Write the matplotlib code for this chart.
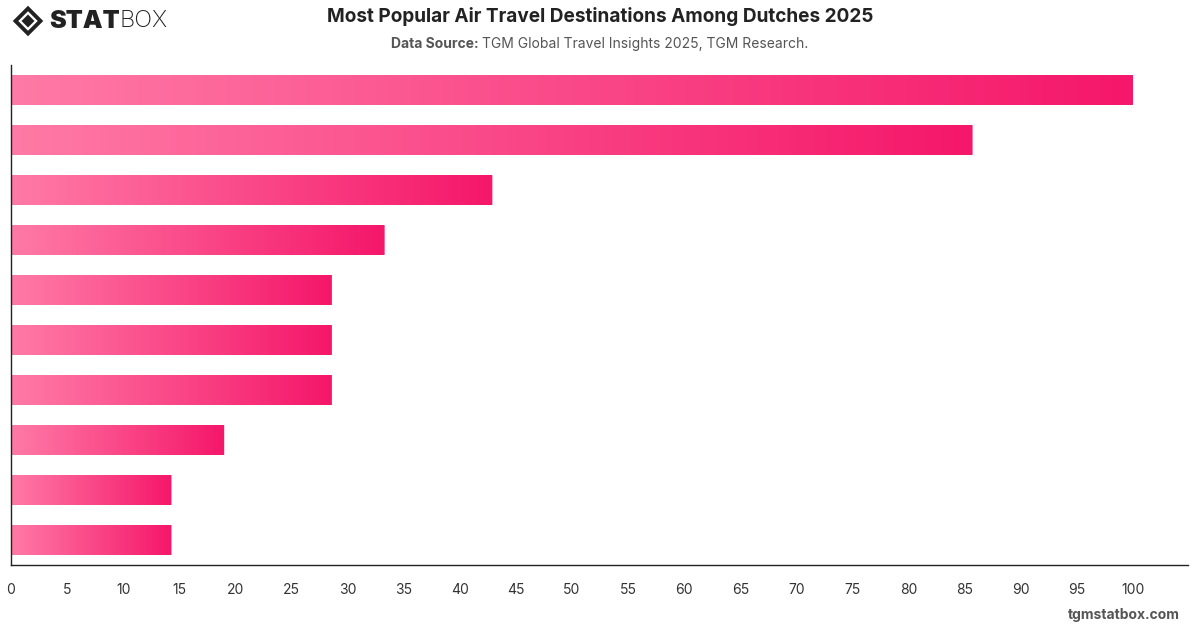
import numpy as np
import matplotlib
matplotlib.use("Agg")
import matplotlib.pyplot as plt
from matplotlib.patches import FancyBboxPatch, Polygon
from matplotlib.colors import LinearSegmentedColormap

# values (top to bottom), no category labels shown
values = [100, 85.7, 42.9, 33.3, 28.6, 28.6, 28.6, 19.0, 14.3, 14.3]
ticks = list(range(0, 101, 5))

plt.rcParams['font.family'] = ['Inter', 'DejaVu Sans']

fig = plt.figure(figsize=(12, 6.28), dpi=100)
ax = fig.add_axes([11 / 1200, 1 - 565 / 628, (1188 - 11) / 1200, 500 / 628])

cmap = LinearSegmentedColormap.from_list('pink', ['#ff7aa6', '#f5176a'])
grad = np.linspace(0, 1, 256).reshape(1, -1)

n = len(values)
bar_h = 0.6
for i, v in enumerate(values):
    y = n - 1 - i
    patch = FancyBboxPatch((0, y - bar_h / 2), v, bar_h,
                           boxstyle="round,pad=0,rounding_size=0.06",
                           mutation_aspect=1 / 11.0,
                           facecolor='none', edgecolor='none')
    ax.add_patch(patch)
    im = ax.imshow(grad, cmap=cmap, aspect='auto',
                   extent=[0, v, y - bar_h / 2, y + bar_h / 2], zorder=2)
    im.set_clip_path(patch)

ax.set_xlim(0, 104.9)
ax.set_ylim(-0.5, n - 0.5)
ax.set_xticks(ticks)
ax.set_xticklabels([str(t) for t in ticks], fontsize=10, color='#333333')
ax.tick_params(axis='x', length=0, pad=13)
ax.set_yticks([])
for s in ['top', 'right']:
    ax.spines[s].set_visible(False)
for s in ['left', 'bottom']:
    ax.spines[s].set_color('#222222')
    ax.spines[s].set_linewidth(1.0)

# titles
fig.text(0.5, 1 - 17 / 628, 'Most Popular Air Travel Destinations Among Dutches 2025',
         ha='center', va='center', fontsize=13.7, fontweight='bold', color='#222222')

# subtitle: bold label + normal text, centred together
renderer = fig.canvas.get_renderer()
sy = 1 - 44 / 628
t1 = fig.text(0, sy, 'Data Source: ', ha='left', va='center', fontsize=10,
              fontweight='bold', color='#555555')
t2 = fig.text(0, sy, 'TGM Global Travel Insights 2025, TGM Research.', ha='left',
              va='center', fontsize=10, color='#555555')
w1 = t1.get_window_extent(renderer).width / 1200
w2 = t2.get_window_extent(renderer).width / 1200
x0 = 0.5 - (w1 + w2) / 2
t1.set_x(x0)
t2.set_x(x0 + w1)

# footer
fig.text(1180 / 1200, 1 - 615 / 628, 'tgmstatbox.com', ha='right', va='center',
         fontsize=10, fontweight='bold', color='#555555')

# logo
lx, ly = 28 / 1200, 1 - 21 / 628
def diamond(cx, cy, rad):
    return [(cx - rad / 1200, cy), (cx, cy + rad / 628), (cx + rad / 1200, cy), (cx, cy - rad / 628)]
fig.patches.append(Polygon(diamond(lx, ly, 12.5), closed=True, transform=fig.transFigure,
                           facecolor='none', edgecolor='#222222', linewidth=2.8))
fig.patches.append(Polygon(diamond(lx, ly, 6.5), closed=True, transform=fig.transFigure,
                           facecolor='#222222', edgecolor='none'))
ts = fig.text(49 / 1200, ly, 'STAT', ha='left', va='center', fontsize=18,
              fontweight='black', color='#222222')
ws = ts.get_window_extent(renderer).width / 1200
fig.text(49 / 1200 + ws, ly, 'BOX', ha='left', va='center', fontsize=17,
         fontweight='light', color='#222222')

fig.savefig('out.png', dpi=100)
